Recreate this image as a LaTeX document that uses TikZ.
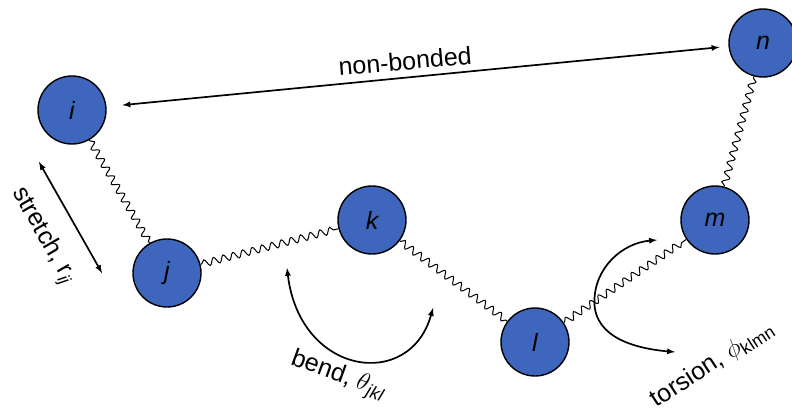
\documentclass[tikz,border=0pt]{standalone}
\usepackage{fontspec}
\setmainfont{Liberation Sans}
\usepackage{tikz}
\usetikzlibrary{positioning,decorations.pathmorphing,arrows,calc}
\definecolor{atomblue}{RGB}{62,102,188}

\begin{document}
\begin{tikzpicture}[
x=1pt,y=1pt,
atom/.style={
  draw,
  circle,
  fill=atomblue,
  line width=1.4pt,
  minimum size=68pt,
  inner sep=0pt,
  font=\itshape\fontsize{25}{25}\selectfont
  },
spring/.style={
  decorate,
  decoration={snake,segment length=10pt,amplitude=3.5pt,pre length=1pt,post length=1pt},
  line width=1pt
  },
motion/.style={
  <->,
  line width=1.7pt
  },
lbl/.style={
  font=\fontsize{25}{25}\selectfont,
  inner sep=0pt
  },
>=latex
]
\useasboundingbox (0,0) rectangle (792,416);

\node[atom] (i) at (72,306) {i};
\node[atom] (j) at (167,143) {j};
\node[atom] (k) at (372,196) {k};
\node[atom] (l) at (535,74) {l};
\node[atom] (m) at (715,196) {m};
\node[atom] (n) at (763,373) {n};

\foreach \a/\b in {i/j,j/k,k/l,l/m,m/n}
  \draw[spring] (\a) -- (\b);

% non-bonded
\draw[motion, shorten <=16pt, shorten >=9pt] (i) -- (n);
\node[lbl, rotate=5] (nb) at (405,355) {non-bonded};

% stretch
\coordinate (s1) at (39,254);
\coordinate (s2) at (102,143);
\draw[motion] (s1) -- (s2);
\node[lbl, rotate=-60] (st) at (43,180) {stretch, r\textsubscript{\itshape ij}};

% bend
\coordinate (b1) at (287,148);
\coordinate (b2) at (433,108);
\draw[motion] (b1) .. controls (300,40) and (410,25) .. (b2);
\node[lbl, rotate=-20] (bd) at (338,40) {bend, $\theta$\textsubscript{\itshape jkl}};

% torsion
\coordinate (tc) at ($(l)!0.33!(m)$);
\coordinate (t1) at (657,176);
\coordinate (t2) at (675,64);
\draw[motion] (t1) to[out=185,in=90] (tc) to[out=-90,in=175] (t2);
\node[lbl, rotate=33] (tr) at (712,52) {torsion, $\phi$\textsubscript{klmn}};

\end{tikzpicture}
\end{document}
